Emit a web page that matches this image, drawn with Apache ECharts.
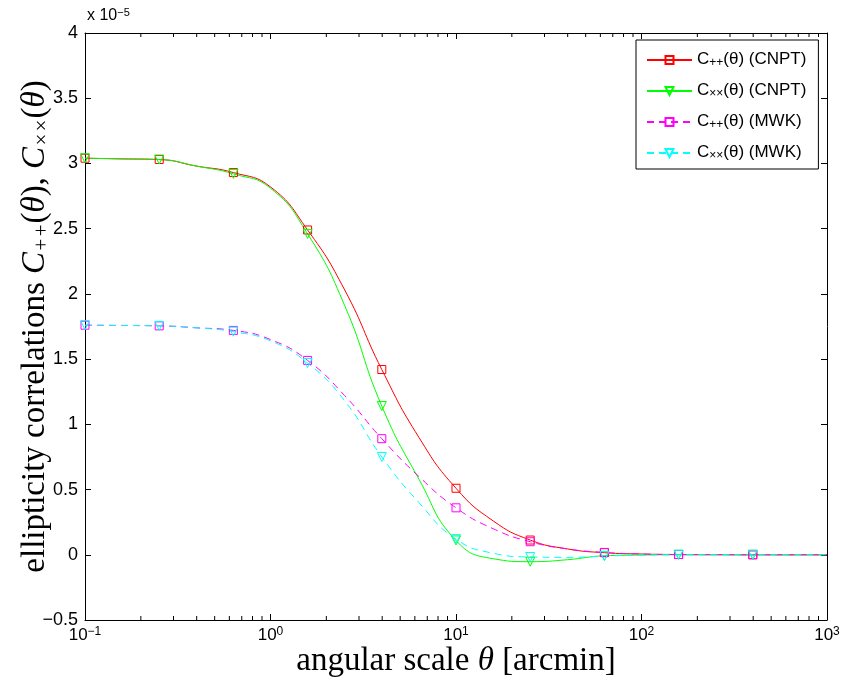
<!DOCTYPE html>
<html>
<head>
<meta charset="utf-8">
<script src="https://cdn.jsdelivr.net/npm/echarts@6/dist/echarts.min.js"></script>
<style>
  html, body { margin: 0; padding: 0; background: #fff; }
  #chart { width: 843px; height: 681px; }
</style>
</head>
<body>
<div id="chart"></div>
<script>
// Angular scale theta [arcmin], sampled every 0.2 decades
const theta = [0.1, 0.1585, 0.2512, 0.3981, 0.631, 1.0, 1.585, 2.512, 3.981, 6.31,
               10, 15.85, 25.12, 39.81, 63.1, 100, 158.5, 251.2, 398.1, 631, 1000];

// Ellipticity correlations, in units of 1e-5
const cppCNPT = [3.04, 3.035, 3.03, 2.98, 2.93, 2.82, 2.49, 2.03, 1.42, 0.90,
                 0.51, 0.26, 0.113, 0.045, 0.016, 0.006, 0.002, 0.001, 0, 0, 0];
const cxxCNPT = [3.04, 3.035, 3.03, 2.98, 2.92, 2.81, 2.46, 1.91, 1.14, 0.58,
                 0.11, -0.03, -0.053, -0.038, -0.008, -0.002, 0, 0, 0, 0, 0];
const cppMWK  = [1.76, 1.758, 1.755, 1.74, 1.72, 1.65, 1.49, 1.22, 0.89, 0.60,
                 0.36, 0.20, 0.10, 0.045, 0.018, 0.006, 0.002, 0.001, 0, 0, 0];
const cxxMWK  = [1.76, 1.758, 1.755, 1.74, 1.71, 1.64, 1.47, 1.18, 0.75, 0.40,
                 0.12, 0.012, -0.017, -0.02, -0.01, -0.003, 0, 0, 0, 0, 0];

// Markers sit on every second sample (every 0.4 decades) up to theta ~ 400
const markerStep = 2;
const markerLast = 18;

const yTicks = { min: -0.5, max: 4, interval: 0.5 };
const xRange = { min: 0.1, max: 1000 };

const seriesDefs = [
  { name: 'cppCNPT', values: cppCNPT, color: '#ff0000', dash: 'solid', symbol: 'rect', rotate: 0 },
  { name: 'cxxCNPT', values: cxxCNPT, color: '#00ff00', dash: 'solid', symbol: 'triangle', rotate: 180 },
  { name: 'cppMWK',  values: cppMWK,  color: '#ff00ff', dash: [7, 5], symbol: 'rect', rotate: 0 },
  { name: 'cxxMWK',  values: cxxMWK,  color: '#00ffff', dash: [7, 5], symbol: 'triangle', rotate: 180 }
];

const legendText = {
  cppCNPT: '{m|C}{s|++}{m|(θ) (CNPT)}',
  cxxCNPT: '{m|C}{s|××}{m|(θ) (CNPT)}',
  cppMWK:  '{m|C}{s|++}{m|(θ) (MWK)}',
  cxxMWK:  '{m|C}{s|××}{m|(θ) (MWK)}'
};

// Minor log ticks (2..9 within each decade)
const minorTicks = [];
for (let d = -1; d < 3; d++) {
  for (let k = 2; k <= 9; k++) minorTicks.push(k * Math.pow(10, d));
}

const helv = 'Liberation Sans, Arial, Helvetica, sans-serif';
const times = 'Liberation Serif, Times New Roman, serif';

function buildLine(def) {
  const data = theta.map((x, i) => {
    const item = { value: [x, def.values[i]] };
    if (!(i % markerStep === 0 && i <= markerLast)) item.symbol = 'none';
    return item;
  });
  return {
    name: def.name,
    type: 'line',
    data: data,
    smooth: 0.5,
    showAllSymbol: true,
    symbol: def.symbol,
    symbolSize: def.symbol === 'rect' ? 8 : 9,
    symbolRotate: def.rotate,
    color: def.color,
    lineStyle: { color: def.color, width: 1, type: def.dash },
    itemStyle: { color: 'rgba(0,0,0,0)', borderColor: def.color, borderWidth: 1 },
    emphasis: { disabled: true },
    animation: false,
    z: 3
  };
}

const expText = (v) => {
  const e = Math.round(Math.log10(v));
  return '{b|10}{s|' + (e < 0 ? '−' + (-e) : e) + '}';
};

const option = {
  animation: false,
  backgroundColor: '#fff',
  title: {
    text: '{a|x 10}{b|−5}',
    left: 82,
    top: 2,
    textStyle: {
      rich: {
        a: { fontFamily: helv, fontSize: 16, fontWeight: 'normal', color: '#000', verticalAlign: 'bottom', lineHeight: 17, padding: [7, 0, 0, 0] },
        b: { fontFamily: helv, fontSize: 11, fontWeight: 'normal', color: '#000', verticalAlign: 'top', lineHeight: 11 }
      }
    }
  },
  grid: { left: 85, right: 16, top: 33, bottom: 61, containLabel: false, outerBoundsMode: 'none' },
  legend: {
    data: seriesDefs.map(d => d.name),
    orient: 'vertical',
    left: 636,
    top: 40,
    padding: [7, 12, 7, 10],
    itemGap: 9,
    itemWidth: 45,
    itemHeight: 10,
    backgroundColor: '#fff',
    borderColor: '#000',
    borderWidth: 1,
    borderRadius: 0,
    selectedMode: false,
    formatter: (name) => legendText[name],
    textStyle: {
      rich: {
        m: { fontFamily: helv, fontSize: 17, color: '#000', verticalAlign: 'top', lineHeight: 18 },
        s: { fontFamily: helv, fontSize: 12, color: '#000', verticalAlign: 'bottom', lineHeight: 12, padding: [10, 0, 0, 0] }
      }
    }
  },
  xAxis: [
    {
      type: 'log',
      logBase: 10,
      min: xRange.min,
      max: xRange.max,
      position: 'bottom',
      splitLine: { show: false },
      axisLine: { show: true, onZero: false, lineStyle: { color: '#000', width: 1 } },
      axisTick: { show: true, inside: true, length: 6, lineStyle: { color: '#000' } },
      axisLabel: {
        margin: 6,
        formatter: expText,
        rich: {
          b: { fontFamily: helv, fontSize: 17, color: '#000', verticalAlign: 'bottom', lineHeight: 18, padding: [6, 0, 0, 0] },
          s: { fontFamily: helv, fontSize: 12, color: '#000', verticalAlign: 'top', lineHeight: 12 }
        }
      },
      name: '{r|angular scale }{i|θ}{r| [arcmin]}',
      nameLocation: 'middle',
      nameGap: 25,
      nameMoveOverlap: false,
      nameTextStyle: {
        rich: {
          r: { fontFamily: times, fontSize: 33, color: '#000' },
          i: { fontFamily: times, fontSize: 33, fontStyle: 'italic', color: '#000' }
        }
      }
    },
    {
      type: 'log',
      logBase: 10,
      min: xRange.min,
      max: xRange.max,
      position: 'top',
      splitLine: { show: false },
      axisLine: { show: true, onZero: false, lineStyle: { color: '#000', width: 1 } },
      axisTick: { show: true, inside: true, length: 6, lineStyle: { color: '#000' } },
      axisLabel: { show: false }
    }
  ],
  yAxis: [
    {
      type: 'value',
      min: yTicks.min,
      max: yTicks.max,
      interval: yTicks.interval,
      position: 'left',
      splitLine: { show: false },
      axisLine: { show: true, onZero: false, lineStyle: { color: '#000', width: 1 } },
      axisTick: { show: true, inside: true, length: 6, lineStyle: { color: '#000' } },
      axisLabel: {
        margin: 7,
        fontFamily: helv,
        fontSize: 18,
        color: '#000',
        formatter: (v) => String(v).replace('-', '−')
      },
      name: '{r|ellipticity correlations }{i|C}{s|++}{r|(}{i|θ}{r|), }{i|C}{s|××}{r|(}{i|θ}{r|)}',
      nameLocation: 'middle',
      nameRotate: 90,
      nameGap: 32,
      nameMoveOverlap: false,
      nameTextStyle: {
        rich: {
          r: { fontFamily: times, fontSize: 33, color: '#000', verticalAlign: 'top', lineHeight: 34 },
          i: { fontFamily: times, fontSize: 33, fontStyle: 'italic', color: '#000', verticalAlign: 'top', lineHeight: 34 },
          s: { fontFamily: times, fontSize: 21, fontStyle: 'italic', color: '#000', verticalAlign: 'bottom', lineHeight: 21, padding: [19, 0, 0, 0] }
        }
      }
    },
    {
      type: 'value',
      min: yTicks.min,
      max: yTicks.max,
      interval: yTicks.interval,
      position: 'right',
      splitLine: { show: false },
      axisLine: { show: true, onZero: false, lineStyle: { color: '#000', width: 1 } },
      axisTick: { show: true, inside: true, length: 6, lineStyle: { color: '#000' } },
      axisLabel: { show: false }
    }
  ],
  series: seriesDefs.map(buildLine).concat([{
    type: 'custom',
    name: 'minorTicks',
    silent: true,
    clip: false,
    xAxisIndex: 0,
    yAxisIndex: 0,
    data: minorTicks.map(v => [v]),
    encode: { x: 0 },
    renderItem: (params, api) => {
      const x = api.value(0);
      const bottom = api.coord([x, yTicks.min]);
      const top = api.coord([x, yTicks.max]);
      const st = { stroke: '#000', lineWidth: 1 };
      return {
        type: 'group',
        children: [
          { type: 'line', shape: { x1: bottom[0], y1: bottom[1], x2: bottom[0], y2: bottom[1] - 4 }, style: st },
          { type: 'line', shape: { x1: top[0], y1: top[1], x2: top[0], y2: top[1] + 4 }, style: st }
        ]
      };
    },
    z: 1
  }])
};

const chart = echarts.init(document.getElementById('chart'), null, { renderer: 'canvas' });
chart.setOption(option);
</script>
</body>
</html>
